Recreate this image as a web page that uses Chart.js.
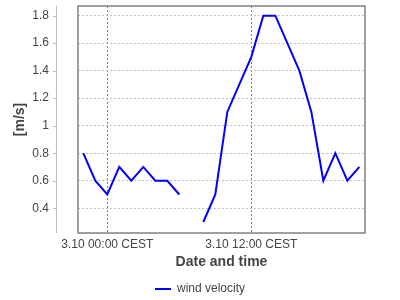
<!DOCTYPE html>
<html>
<head>
<meta charset="utf-8">
<script src="https://cdn.jsdelivr.net/npm/chart.js@4"></script>
<style>
  html, body { margin: 0; padding: 0; background: #fff; }
  #wrap { width: 400px; height: 300px; }
</style>
</head>
<body>
<div id="wrap"><canvas id="myChart" width="400" height="300"></canvas></div>
<script>
// hours relative to 3.10 00:00 CEST
let hours = [-2, -1, 0, 1, 2, 3, 4, 5, 6, 7, 8, 9, 10, 11, 12, 13, 14, 15, 16, 17, 18, 19, 20, 21]
let windVelocity = [0.8, 0.6, 0.5, 0.7, 0.6, 0.7, 0.6, 0.6, 0.5, null, 0.3, 0.5, 1.1, 1.3, 1.5, 1.8, 1.8, 1.6, 1.4, 1.1, 0.6, 0.8, 0.6, 0.7]

let xTicks = [0, 12]
let xTickLabels = ['3.10 00:00 CEST', '3.10 12:00 CEST']
let yTicks = [0.4, 0.6, 0.8, 1, 1.2, 1.4, 1.6, 1.8]

const font = "'Liberation Sans', Arial, sans-serif"

// plot frame + the detached y axis line on the left
const frame = {
  id: 'frame',
  afterDatasetsDraw(chart) {
    const c = chart.ctx
    const a = chart.chartArea
    const y = chart.scales.y
    c.save()
    c.strokeStyle = '#808080'
    c.lineWidth = 1.5
    c.strokeRect(a.left, a.top, a.right - a.left, a.bottom - a.top)
    c.strokeStyle = '#c0c0c0'
    c.lineWidth = 1
    c.beginPath()
    c.moveTo(56.5, a.top)
    c.lineTo(56.5, a.bottom)
    y.ticks.forEach(t => {
      const py = Math.round(y.getPixelForValue(t.value)) + 0.5
      c.moveTo(53, py)
      c.lineTo(56.5, py)
    })
    c.stroke()
    c.restore()
  }
}

let myChart = new Chart(document.getElementById('myChart'), {
  type: 'line',
  data: {
    datasets: [{
      label: 'wind velocity',
      data: hours.map((h, i) => ({ x: h, y: windVelocity[i] })),
      borderColor: '#0000ff',
      backgroundColor: '#0000ff',
      borderWidth: 2,
      pointRadius: 0,
      tension: 0,
      spanGaps: false
    }]
  },
  options: {
    responsive: false,
    animation: false,
    // legend sits lower than chart.js puts it, hence the negative bottom
    layout: { padding: { top: 6, right: 0, left: 0, bottom: -5 } },
    plugins: {
      tooltip: { enabled: false },
      legend: {
        position: 'bottom',
        labels: {
          usePointStyle: true,
          pointStyle: 'line',
          pointStyleWidth: 16,
          color: '#444',
          font: { family: font, size: 12 },
          padding: 3
        }
      }
    },
    scales: {
      x: {
        type: 'linear',
        min: -2.44,
        max: 21.47,
        afterBuildTicks: s => { s.ticks = xTicks.map(v => ({ value: v })) },
        afterFit: s => { s.height = 47; s.paddingLeft = 0; s.paddingRight = 35 },
        ticks: {
          color: '#444',
          font: { family: font, size: 12 },
          padding: 4,
          maxRotation: 0,
          callback: v => xTickLabels[xTicks.indexOf(v)]
        },
        grid: { color: '#808080', drawTicks: false },
        border: { display: false, dash: [2, 2] },
        title: {
          display: true,
          text: 'Date and time',
          color: '#444',
          font: { family: font, size: 14, weight: 'bold' },
          padding: { top: 0, bottom: 9 }
        }
      },
      y: {
        min: 0.22,
        max: 1.87,
        afterBuildTicks: s => { s.ticks = yTicks.map(v => ({ value: v })) },
        afterFit: s => { s.width = 78; s.paddingTop = 0; s.paddingBottom = 0 },
        ticks: {
          color: '#444',
          font: { family: font, size: 12 },
          padding: 4,
          callback: v => String(v)
        },
        grid: { color: '#c0c0c0', drawTicks: true, tickLength: 25, tickColor: 'rgba(0,0,0,0)' },
        border: { display: false, dash: [2, 2] },
        title: {
          display: true,
          text: '[m/s]',
          color: '#444',
          font: { family: font, size: 14, weight: 'bold' },
          padding: { top: 12, bottom: 0 }
        }
      }
    }
  },
  plugins: [frame]
})
</script>
</body>
</html>
